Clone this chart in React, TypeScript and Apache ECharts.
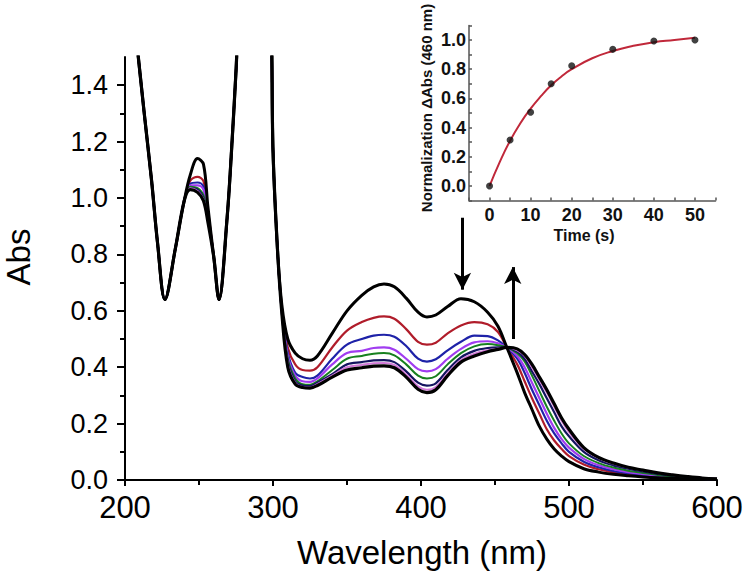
import React, { useEffect, useRef } from "react";
import * as echarts from "echarts";

// ---------- Main spectra data ----------
const wavelength = [206, 213, 218, 222, 227, 234, 240, 244, 249, 253, 256, 260, 263.5, 269, 272, 275, 278, 290, 298, 300, 303, 306, 310, 315, 320, 325, 330, 340, 350,
  360, 368, 375, 382, 390, 398, 404, 410, 418, 427, 436, 445, 452, 458,
  465, 470, 475, 480, 485, 490, 495, 500, 510, 520, 530, 540, 550, 560, 570, 580, 590, 600];

const abs0s = [1.65, 1.30, 1.06, 0.84, 0.64, 0.82, 0.99, 1.08, 1.14, 1.12, 0.97, 0.79, 0.64, 0.93, 1.17, 1.45, 1.75, 2.2, 1.75, 1.17, 0.82, 0.62, 0.50, 0.45, 0.43, 0.425, 0.44, 0.52, 0.60,
  0.655, 0.685, 0.695, 0.685, 0.645, 0.595, 0.578, 0.585, 0.615, 0.643, 0.632, 0.595, 0.545, 0.47,
  0.38, 0.31, 0.25, 0.19, 0.145, 0.11, 0.085, 0.065, 0.04, 0.028, 0.02, 0.015, 0.011, 0.008, 0.006, 0.004, 0.003, 0.002];
const abs5s = [1.65, 1.30, 1.06, 0.84, 0.64, 0.82, 0.99, 1.06, 1.075, 1.06, 0.96, 0.79, 0.64, 0.93, 1.17, 1.45, 1.75, 2.2, 1.75, 1.17, 0.82, 0.61, 0.47, 0.41, 0.39, 0.388, 0.40, 0.47, 0.53,
  0.56, 0.575, 0.58, 0.572, 0.535, 0.49, 0.48, 0.487, 0.52, 0.548, 0.56, 0.552, 0.525, 0.47,
  0.41, 0.35, 0.29, 0.235, 0.18, 0.14, 0.11, 0.085, 0.055, 0.038, 0.027, 0.02, 0.015, 0.011, 0.008, 0.005, 0.004, 0.003];
const abs10s = [1.65, 1.30, 1.06, 0.84, 0.64, 0.82, 0.99, 1.05, 1.055, 1.04, 0.95, 0.79, 0.64, 0.93, 1.17, 1.45, 1.75, 2.2, 1.75, 1.17, 0.82, 0.60, 0.45, 0.38, 0.365, 0.36, 0.37, 0.43, 0.48,
  0.50, 0.512, 0.515, 0.508, 0.475, 0.43, 0.42, 0.428, 0.46, 0.49, 0.512, 0.51, 0.495, 0.47,
  0.43, 0.38, 0.32, 0.265, 0.21, 0.165, 0.13, 0.10, 0.065, 0.045, 0.032, 0.024, 0.018, 0.013, 0.009, 0.006, 0.004, 0.003];
const abs15s = [1.65, 1.30, 1.06, 0.84, 0.64, 0.82, 0.99, 1.045, 1.045, 1.03, 0.94, 0.79, 0.64, 0.93, 1.17, 1.45, 1.75, 2.2, 1.75, 1.17, 0.82, 0.60, 0.44, 0.37, 0.35, 0.348, 0.36, 0.41, 0.45,
  0.458, 0.468, 0.47, 0.462, 0.43, 0.393, 0.385, 0.393, 0.43, 0.465, 0.488, 0.492, 0.485, 0.47,
  0.44, 0.40, 0.345, 0.29, 0.235, 0.185, 0.145, 0.115, 0.075, 0.052, 0.038, 0.028, 0.021, 0.015, 0.011, 0.007, 0.005, 0.003];
const abs20s = [1.65, 1.30, 1.06, 0.84, 0.64, 0.82, 0.99, 1.04, 1.035, 1.01, 0.93, 0.79, 0.64, 0.93, 1.17, 1.45, 1.75, 2.2, 1.75, 1.17, 0.82, 0.59, 0.43, 0.36, 0.34, 0.338, 0.35, 0.39, 0.43,
  0.44, 0.448, 0.45, 0.442, 0.41, 0.37, 0.36, 0.368, 0.41, 0.45, 0.474, 0.482, 0.478, 0.47,
  0.45, 0.42, 0.37, 0.315, 0.26, 0.21, 0.165, 0.13, 0.085, 0.06, 0.044, 0.033, 0.025, 0.018, 0.013, 0.009, 0.006, 0.004];
const abs30s = [1.65, 1.30, 1.06, 0.84, 0.64, 0.82, 0.99, 1.035, 1.03, 1.0, 0.925, 0.79, 0.64, 0.93, 1.17, 1.45, 1.75, 2.2, 1.75, 1.17, 0.82, 0.59, 0.42, 0.35, 0.335, 0.333, 0.345, 0.375, 0.41,
  0.418, 0.424, 0.425, 0.418, 0.385, 0.345, 0.335, 0.343, 0.39, 0.435, 0.458, 0.468, 0.47, 0.47,
  0.455, 0.43, 0.385, 0.34, 0.29, 0.24, 0.19, 0.155, 0.10, 0.07, 0.052, 0.04, 0.03, 0.022, 0.016, 0.011, 0.007, 0.004];
const abs40s = [1.65, 1.30, 1.06, 0.84, 0.64, 0.82, 0.99, 1.035, 1.025, 0.995, 0.92, 0.79, 0.64, 0.93, 1.17, 1.45, 1.75, 2.2, 1.75, 1.17, 0.82, 0.59, 0.41, 0.345, 0.33, 0.328, 0.34, 0.37, 0.40,
  0.408, 0.414, 0.415, 0.408, 0.375, 0.332, 0.32, 0.33, 0.378, 0.425, 0.448, 0.46, 0.466, 0.47,
  0.46, 0.44, 0.40, 0.355, 0.31, 0.26, 0.21, 0.17, 0.11, 0.078, 0.058, 0.044, 0.034, 0.025, 0.018, 0.012, 0.007, 0.004];
const abs50s = [1.65, 1.30, 1.06, 0.84, 0.64, 0.82, 0.99, 1.03, 1.02, 0.99, 0.915, 0.79, 0.64, 0.93, 1.17, 1.45, 1.75, 2.2, 1.75, 1.17, 0.82, 0.59, 0.40, 0.34, 0.328, 0.326, 0.335, 0.365, 0.39,
  0.398, 0.404, 0.405, 0.398, 0.365, 0.322, 0.31, 0.32, 0.37, 0.418, 0.44, 0.455, 0.463, 0.47,
  0.465, 0.445, 0.41, 0.365, 0.32, 0.27, 0.22, 0.18, 0.115, 0.08, 0.06, 0.045, 0.035, 0.025, 0.018, 0.012, 0.007, 0.004];

// drawn bottom-to-top
const spectra = [
  { name: "5 s", data: abs5s, color: "#b01c2a", width: 2.2 },
  { name: "10 s", data: abs10s, color: "#1e22a8", width: 2.2 },
  { name: "15 s", data: abs15s, color: "#a03cf0", width: 2.2 },
  { name: "20 s", data: abs20s, color: "#17801f", width: 2 },
  { name: "30 s", data: abs30s, color: "#141460", width: 2.2 },
  { name: "40 s", data: abs40s, color: "#d27ad8", width: 2 },
  { name: "50 s", data: abs50s, color: "#000000", width: 3.2 },
  { name: "0 s", data: abs0s, color: "#000000", width: 3 },
];

// ---------- Inset data ----------
const insetTime = [0, 5, 10, 15, 20, 30, 40, 50];
const insetValue = [0, 0.315, 0.505, 0.70, 0.824, 0.936, 0.993, 1.0];
const fitTime = [0, 2.5, 5, 7.5, 10, 12.5, 15, 17.5, 20, 25, 30, 35, 40, 45, 50];
const fitValue = [0, 0.165, 0.31, 0.43, 0.53, 0.615, 0.69, 0.75, 0.80, 0.875, 0.925, 0.96, 0.985, 1.0, 1.015];

// ---------- Annotations ----------
const downArrow = [[428, 0.93], [428, 0.675]];
const upArrow = [[462, 0.50], [462, 0.755]];
const mainYTicks = [0, 0.2, 0.4, 0.6, 0.8, 1.0, 1.2, 1.4];

const FONT = "'Liberation Sans', Arial, Helvetica, sans-serif";

export default function App() {
  const ref = useRef<HTMLDivElement>(null);
  useEffect(() => {
    if (!ref.current) return;
    const chart = echarts.init(ref.current, null, { renderer: "svg" });
    const black = "#000";
    const insetAxisColor = "#555";

    const mainSeries = spectra.map((s, idx) => ({
      type: "line",
      name: s.name,
      xAxisIndex: 0,
      yAxisIndex: 0,
      data: wavelength.map((w, i) => [w, s.data[i]]),
      showSymbol: false,
      symbol: "none",
      smooth: 0.35,
      smoothConstraint: false,
      clip: true,
      lineStyle: { color: s.color, width: s.width },
      z: 2 + idx,
      ...(idx === spectra.length - 1
        ? {
            markLine: {
              silent: true,
              symbol: ["none", "arrow"],
              symbolSize: [13, 17],
              label: { show: false },
              lineStyle: { color: black, width: 3, type: "solid" },
              data: [
                [{ coord: downArrow[0] }, { coord: downArrow[1] }],
                [{ coord: upArrow[0] }, { coord: upArrow[1] }],
              ],
            },
          }
        : {}),
    }));

    chart.setOption({
      animation: false,
      backgroundColor: "#fff",
      grid: [
        { left: 125, right: 32, top: 57, bottom: 97 },
        { left: 469, right: 33.5, top: 25.4, bottom: 376.4 },
      ],
      xAxis: [
        {
          gridIndex: 0,
          type: "value",
          min: 200,
          max: 600,
          interval: 100,
          axisLine: { show: true, onZero: false, lineStyle: { color: black, width: 2 } },
          axisTick: { show: true, length: 6, lineStyle: { color: black, width: 2 } },
          minorTick: { show: true, splitNumber: 2, length: 5, lineStyle: { color: black, width: 2 } },
          splitLine: { show: false },
          axisLabel: { fontSize: 31, color: black, margin: 12, fontFamily: FONT },
        },
        {
          gridIndex: 1,
          type: "value",
          min: -5,
          max: 55,
          interval: 5,
          axisLine: { show: true, onZero: false, lineStyle: { color: insetAxisColor, width: 1.5 } },
          axisTick: { show: true, inside: true, length: 3, lineStyle: { color: insetAxisColor, width: 1.5 } },
          splitLine: { show: false },
          axisLabel: {
            fontSize: 18,
            fontWeight: "bold",
            color: "#111",
            margin: 5,
            fontFamily: FONT,
            formatter: (v: number) => (v >= 0 && v <= 50 && Math.round(v) % 10 === 0 ? String(Math.round(v)) : ""),
          },
        },
      ],
      yAxis: [
        {
          gridIndex: 0,
          type: "value",
          min: 0,
          max: 1.5,
          interval: 0.2,
          axisLine: { show: true, onZero: false, lineStyle: { color: black, width: 2 } },
          axisTick: { show: true, length: 8, customValues: mainYTicks, lineStyle: { color: black, width: 2 } },
          minorTick: { show: true, splitNumber: 2, length: 5, lineStyle: { color: black, width: 2 } },
          splitLine: { show: false },
          axisLabel: {
            customValues: mainYTicks,
            fontSize: 27,
            color: black,
            margin: 17,
            fontFamily: FONT,
            formatter: (v: number) => v.toFixed(1),
          },
        },
        {
          gridIndex: 1,
          type: "value",
          min: -0.1,
          max: 1.1,
          interval: 0.1,
          axisLine: { show: true, onZero: false, lineStyle: { color: insetAxisColor, width: 1.5 } },
          axisTick: { show: true, inside: true, length: 3, lineStyle: { color: insetAxisColor, width: 1.5 } },
          splitLine: { show: false },
          axisLabel: {
            fontSize: 18,
            fontWeight: "bold",
            color: "#111",
            margin: 3,
            fontFamily: FONT,
            formatter: (v: number) => {
              const k = Math.round(v * 10);
              return k >= 0 && k <= 10 && k % 2 === 0 ? (k / 10).toFixed(1) : "";
            },
          },
        },
      ],
      series: [
        ...mainSeries,
        {
          type: "line",
          name: "fit",
          xAxisIndex: 1,
          yAxisIndex: 1,
          data: fitTime.map((t, i) => [t, fitValue[i]]),
          showSymbol: false,
          symbol: "none",
          smooth: true,
          lineStyle: { color: "#c0283a", width: 2 },
          z: 20,
        },
        {
          type: "scatter",
          name: "points",
          xAxisIndex: 1,
          yAxisIndex: 1,
          data: insetTime.map((t, i) => [t, insetValue[i]]),
          symbolSize: 7,
          itemStyle: { color: "#111" },
          z: 21,
        },
      ],
      graphic: [
        {
          type: "text",
          x: 18,
          y: 257,
          rotation: Math.PI / 2,
          style: { text: "Abs", fontSize: 33, fontFamily: FONT, fill: black, align: "center", verticalAlign: "middle" },
        },
        {
          type: "text",
          x: 422,
          y: 552,
          style: { text: "Wavelength (nm)", fontSize: 33, fontFamily: FONT, fill: black, align: "center", verticalAlign: "middle" },
        },
        {
          type: "text",
          x: 584,
          y: 235,
          style: { text: "Time (s)", fontSize: 16, fontWeight: "bold", fontFamily: FONT, fill: "#111", align: "center", verticalAlign: "middle" },
        },
        {
          type: "text",
          x: 426,
          y: 108,
          rotation: Math.PI / 2,
          style: {
            text: "Normalization \u0394Abs (460 nm)",
            fontSize: 15,
            fontWeight: "bold",
            fontFamily: FONT,
            fill: "#111",
            align: "center",
            verticalAlign: "middle",
          },
        },
      ],
    });
    return () => chart.dispose();
  }, []);

  return (
    <div
      ref={ref}
      style={{ position: "fixed", left: 0, top: 0, width: 749, height: 577, background: "#fff" }}
    />
  );
}
